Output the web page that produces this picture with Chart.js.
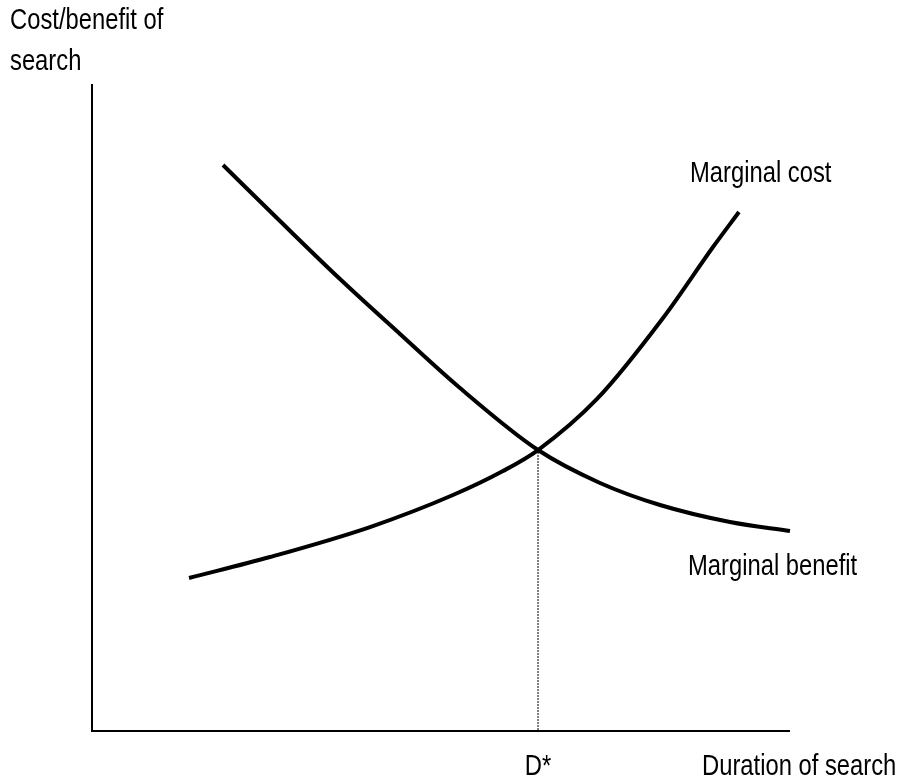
<!DOCTYPE html>
<html>
<head>
<meta charset="utf-8">
<script src="https://cdn.jsdelivr.net/npm/chart.js@4"></script>
<style>
  html, body { margin: 0; padding: 0; background: #fff; }
  canvas { display: block; }
</style>
</head>
<body>
<canvas id="chart" width="900" height="780"></canvas>
<script>
// 곡선 좌표 (축 0~100 기준, 그림에서 읽은 값)
const benefitX = [18.77, 26.93, 35.53, 44.13, 52.72, 63.90, 72.78, 81.38, 91.40, 100];
const benefitY = [87.46, 78.79, 69.81, 61.30, 52.94, 43.34, 38.24, 34.83, 32.20, 30.80];
const costX = [13.90, 25.50, 39.83, 51.72, 58.88, 63.90, 72.35, 81.81, 88.97, 92.69];
const costY = [23.53, 26.78, 31.42, 36.38, 40.09, 43.34, 51.24, 63.78, 74.77, 80.19];
const dStar = { x: 63.9, y: 43.34 };

const yTitle = ['Cost/benefit of', 'search'];
const xTitle = 'Duration of search';
const costLabel = 'Marginal cost';
const benefitLabel = 'Marginal benefit';
const dStarLabel = 'D*';

const FONT = '29px "Liberation Sans", Arial, sans-serif';
const NARROW = 0.82; // Arial Narrow 느낌으로 가로 압축

const toPoints = (xs, ys) => xs.map((x, i) => ({ x, y: ys[i] }));

const curve = (data) => ({
  data,
  borderColor: '#000',
  borderWidth: 4,
  pointRadius: 0,
  cubicInterpolationMode: 'monotone',
  clip: false,
});

function narrowText(c, text, x, y, align = 'left') {
  c.save();
  c.translate(x, y);
  c.scale(NARROW, 1);
  c.textAlign = align;
  c.fillText(text, 0, 0);
  c.restore();
}

// 축선 + 텍스트
const annotations = {
  id: 'annotations',
  afterDatasetsDraw(chart) {
    const { ctx: c, scales: { x, y } } = chart;
    const x0 = x.getPixelForValue(0), x1 = x.getPixelForValue(100);
    const y0 = y.getPixelForValue(0), y1 = y.getPixelForValue(100);
    c.save();
    c.strokeStyle = '#000';
    c.lineWidth = 2;
    c.beginPath();
    c.moveTo(x0, y1);
    c.lineTo(x0, y0 + 1);
    c.lineTo(x1, y0 + 1);
    c.stroke();

    c.fillStyle = '#000';
    c.font = FONT;
    c.textBaseline = 'alphabetic';
    narrowText(c, yTitle[0], 10, 29);
    narrowText(c, yTitle[1], 10, 70);
    narrowText(c, costLabel, 690, 182);
    narrowText(c, benefitLabel, 688, 575);
    narrowText(c, xTitle, 702, 775);
    narrowText(c, dStarLabel, x.getPixelForValue(dStar.x), 775, 'center');
    c.restore();
  }
};

new Chart(document.getElementById('chart'), {
  type: 'line',
  data: {
    datasets: [
      curve(toPoints(benefitX, benefitY)),
      curve(toPoints(costX, costY)),
      {
        data: [{ x: dStar.x, y: 0 }, { x: dStar.x, y: dStar.y }],
        borderColor: '#000',
        borderWidth: 1,
        borderDash: [2, 1],
        pointRadius: 0,
        clip: false,
      },
    ]
  },
  options: {
    responsive: false,
    animation: false,
    layout: { padding: { left: 92, right: 110, top: 84, bottom: 50 } },
    plugins: { legend: { display: false }, tooltip: { enabled: false } },
    scales: {
      x: { type: 'linear', min: 0, max: 100, display: false },
      y: { type: 'linear', min: 0, max: 100, display: false },
    },
  },
  plugins: [annotations],
});
</script>
</body>
</html>
